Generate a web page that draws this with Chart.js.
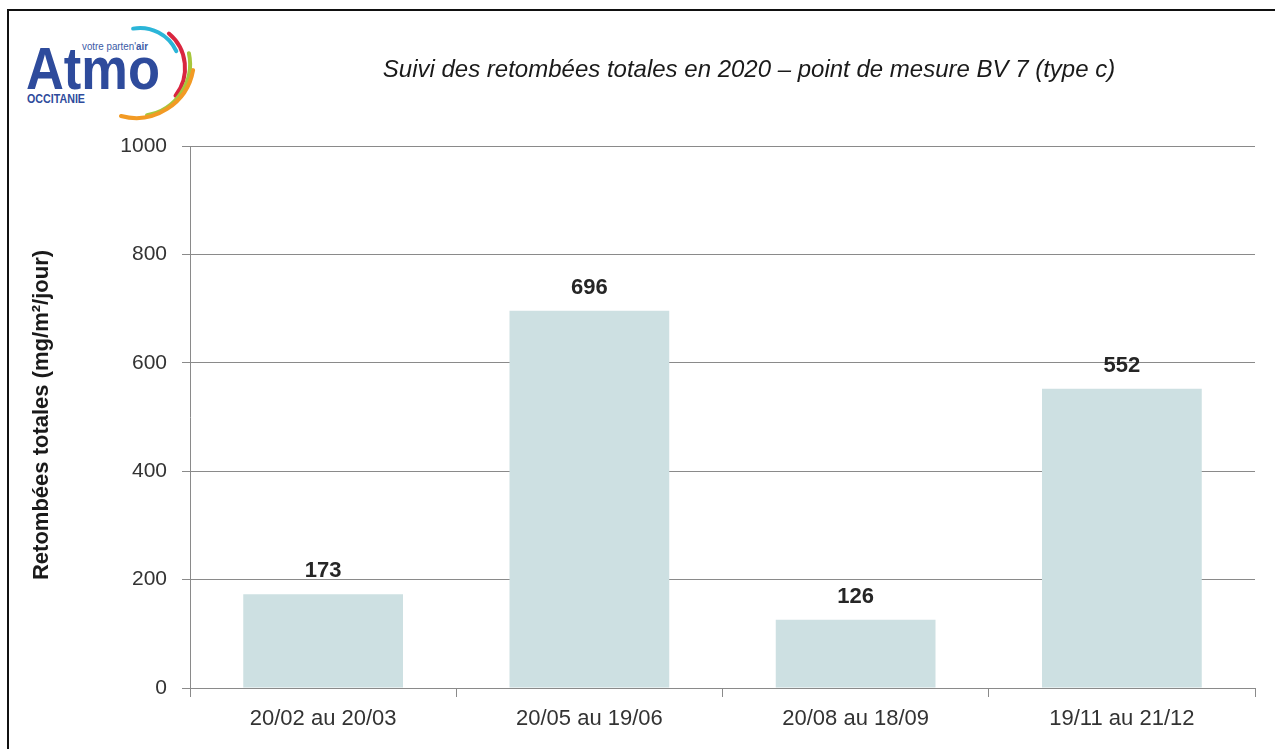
<!DOCTYPE html>
<html>
<head>
<meta charset="utf-8">
<script src="https://cdn.jsdelivr.net/npm/chart.js@4.4.0/dist/chart.umd.min.js"></script>
<style>
  html, body { margin: 0; padding: 0; background: #fff; overflow: hidden; }
  #wrap { position: relative; width: 1275px; height: 749px; overflow: hidden; }
  #frame { position: absolute; left: 7px; top: 9px; width: 1300px; height: 800px; border: 2px solid #111; box-sizing: border-box; }
  #logo { position: absolute; left: 10px; top: 12px; }
  canvas { position: absolute; left: 0; top: 0; }
</style>
</head>
<body>
<div id="wrap">
  <div id="frame"></div>
  <svg id="logo" width="200" height="112" viewBox="10 12 200 112" xmlns="http://www.w3.org/2000/svg">
    <text x="82" y="50" font-family="Liberation Sans, Arial, sans-serif" font-size="10" fill="#3b5aa6" textLength="66" lengthAdjust="spacingAndGlyphs">votre parten'<tspan font-weight="bold">air</tspan></text>
    <text x="26" y="89" font-family="Liberation Sans, Arial, sans-serif" font-weight="bold" font-size="60" fill="#2e4b9c" textLength="134" lengthAdjust="spacingAndGlyphs">Atmo</text>
    <text x="27" y="103" font-family="Liberation Sans, Arial, sans-serif" font-weight="bold" font-size="12" fill="#2e4b9c" textLength="58" lengthAdjust="spacingAndGlyphs">OCCITANIE</text>
    <g fill="none" stroke-linecap="round">
      <path id="a1" stroke="#2bb5d8" stroke-width="4"/>
      <path id="a2" stroke="#d9263f" stroke-width="4"/>
      <path id="a3" stroke="#a7c63c" stroke-width="4"/>
      <path id="a4" stroke="#f29a24" stroke-width="4"/>
    </g>
  </svg>
  <canvas id="c" width="1275" height="749"></canvas>
</div>
<script>
// ---- data ----
const categories = ['20/02 au 20/03', '20/05 au 19/06', '20/08 au 18/09', '19/11 au 21/12'];
const values = [173, 696, 126, 552];
const yTicks = [0, 200, 400, 600, 800, 1000];
const chartTitle = 'Suivi des retombées totales en 2020 – point de mesure BV 7 (type c)';
const yTitle = 'Retombées totales (mg/m²/jour)';

// ---- logo arcs ----
function arc(cx, cy, r, a0, a1) {
  const d = Math.PI / 180;
  const x0 = cx + r * Math.cos(a0 * d), y0 = cy + r * Math.sin(a0 * d);
  const x1 = cx + r * Math.cos(a1 * d), y1 = cy + r * Math.sin(a1 * d);
  const large = (a1 - a0) > 180 ? 1 : 0;
  return `M${x0.toFixed(1)},${y0.toFixed(1)} A${r},${r} 0 ${large} 1 ${x1.toFixed(1)},${y1.toFixed(1)}`;
}
document.getElementById('a1').setAttribute('d', arc(140, 68, 40, -100, -25));
document.getElementById('a2').setAttribute('d', arc(140, 68, 45, -50, 38));
document.getElementById('a3').setAttribute('d', arc(138, 64, 52, -12, 80));
document.getElementById('a4').setAttribute('d', arc(136, 60, 58, 10, 105));

const FONT = "'Liberation Sans', Arial, sans-serif";

const textPlugin = {
  id: 'texts',
  afterDraw(chart) {
    const ctx = chart.ctx;
    ctx.save();
    // title
    ctx.fillStyle = '#1a1a1a';
    ctx.font = 'italic 24px ' + FONT;
    ctx.textAlign = 'center';
    ctx.textBaseline = 'middle';
    ctx.fillText(chartTitle, 749, 70);
    // y title
    ctx.save();
    ctx.translate(42, 415);
    ctx.rotate(-Math.PI / 2);
    ctx.font = 'bold 22px ' + FONT;
    ctx.fillStyle = '#1a1a1a';
    ctx.fillText(yTitle, 0, 0);
    ctx.restore();
    // data labels
    const meta = chart.getDatasetMeta(0);
    ctx.font = 'bold 22px ' + FONT;
    ctx.fillStyle = '#262626';
    ctx.textAlign = 'center';
    ctx.textBaseline = 'alphabetic';
    meta.data.forEach((bar, i) => {
      ctx.fillText(String(values[i]), bar.x, bar.y - 17);
    });
    ctx.restore();
  }
};

new Chart(document.getElementById('c'), {
  type: 'bar',
  data: {
    labels: categories,
    datasets: [{
      data: values,
      backgroundColor: '#cde0e2',
      borderWidth: 0,
      barPercentage: 0.6,
      categoryPercentage: 1.0
    }]
  },
  options: {
    responsive: false,
    animation: false,
    events: [],
    layout: { padding: { left: 0, top: 146, right: 20, bottom: 0 } },
    plugins: { legend: { display: false }, title: { display: false }, tooltip: { enabled: false } },
    scales: {
      x: {
        afterFit(s) { s.height = 61; },
        grid: { display: true, drawOnChartArea: false, drawTicks: true, tickLength: 9, color: '#8a8a8a', offset: true },
        border: { display: true, color: '#8a8a8a', width: 1 },
        ticks: { color: '#333', font: { family: FONT, size: 22 }, padding: 9, maxRotation: 0 }
      },
      y: {
        min: 0, max: 1000,
        afterFit(s) { s.width = 190; },
        afterBuildTicks(s) { s.ticks = yTicks.map(v => ({ value: v })); },
        grid: { color: '#8a8a8a', tickLength: 8, lineWidth: 1 },
        border: { display: true, color: '#8a8a8a', width: 1 },
        ticks: { color: '#333', font: { family: FONT, size: 21 }, padding: 15, callback: v => String(v) }
      }
    }
  },
  plugins: [textPlugin]
});
</script>
</body>
</html>
